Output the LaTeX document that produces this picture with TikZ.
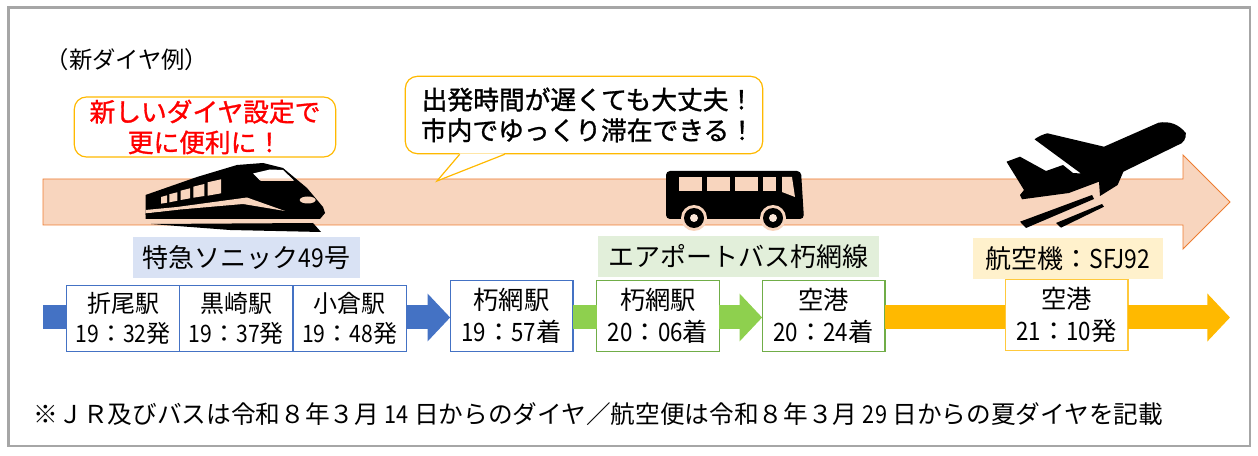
\documentclass[tikz,border=0pt]{standalone}
\usepackage{fontspec}
\setmainfont{Noto Sans CJK JP}
\newfontfamily\digitfont[FakeStretch=.88]{Noto Sans CJK JP}
\newfontfamily\heavyfont[FakeBold=1.2]{Noto Sans CJK JP}
\newcommand{\nd}[1]{{\digitfont #1}}
\usetikzlibrary{arrows.meta,calc,positioning}
\definecolor{peach}{HTML}{F8D5BE}
\definecolor{peachline}{HTML}{ED7D31}
\definecolor{railblue}{HTML}{4472C4}
\definecolor{busgreen}{HTML}{8ED04E}
\definecolor{busline}{HTML}{70AD47}
\definecolor{airgold}{HTML}{FFB900}
\definecolor{airline}{HTML}{FFC93C}
\tikzset{
  station/.style={
      draw=#1,
      line width=1pt,
      fill=white,
      inner sep=0pt,
      outer sep=0pt,
      align=center,
      minimum height=53pt,
      minimum width=92pt,
      font=\fontsize{19}{24}\selectfont
  },
  stop/.style={
      station=railblue,
      minimum width=85pt,
      minimum height=49pt,
      font=\fontsize{18}{22}\selectfont
  },
  service/.style={
      fill=#1,
      inner sep=0pt,
      minimum height=31pt,
      font=\fontsize{19.5}{22}\selectfont
  },
  balloon/.style={
      draw=airgold,
      line width=.9pt,
      fill=white,
      rounded corners=9pt,
      inner sep=0pt,
      align=center,
      font=\fontsize{19.3}{23}\heavyfont\selectfont
  },
  leg/.style={
      line width=18pt,
      draw=#1
  },
  legtip/.style={
      leg=#1,
      -{Triangle[length=17pt,width=35pt]}
  },
  cutout/.style={
      fill=peach
  }
}
\begin{document}
\begin{tikzpicture}[x=.75pt,y=-.75pt]
	\useasboundingbox (0,0) rectangle (1258,456);
	\draw[draw=black!35,line width=1.8pt] (8.5,7.5) rectangle (1250,446);
	\node[font=\fontsize{17.5}{20}\selectfont] (note) at (127,60) {（新ダイヤ例）};

	% long arrow
	\draw[draw=peachline,fill=peach,line width=.7pt] (43,179) -- (1183,179) -- (1183,155) -- (1230,202)
		-- (1183,249) -- (1183,225) -- (43,225) -- cycle;

	% rows of legs, boxes go on top
	\coordinate (railstart) at (43,317.5);
	\coordinate (airend) at (1230,317.5);
	\node[stop] (orio) at (123,318.5) {折尾駅\\\nd{19}：\nd{32}発};
	\node[stop,right=0pt of orio] (kurosaki) {黒崎駅\\\nd{19}：\nd{37}発};
	\node[stop,right=0pt of kurosaki] (kokura) {小倉駅\\\nd{19}：\nd{48}発};
	\node[station=railblue] (kutsuami) at (511.5,316) {朽網駅\\\nd{19}：\nd{57}着};
	\node[station=busline] (busstop) at (658,316) {朽網駅\\\nd{20}：\nd{06}着};
	\node[station=busline] (busair) at (823.5,316) {空港\\\nd{20}：\nd{24}着};
	\node[station=airline] (airport) at (1066.5,315) {空港\\\nd{21}：\nd{10}発};
	\draw[leg=railblue] (railstart) -- (orio.west |- railstart);
	\draw[legtip=railblue] (kokura.east |- railstart) -- (kutsuami.west |- railstart);
	\draw[leg=busgreen] (kutsuami.east |- railstart) -- (busstop.west |- railstart);
	\draw[legtip=busgreen] (busstop.east |- railstart) -- (busair.west |- railstart);
	\draw[leg=airgold] (busair.east |- railstart) -- (airport.west |- railstart);
	\draw[legtip=airgold] (airport.east |- railstart) -- (airend);

	\node[service=blue!5!railblue!20,minimum width=170pt] (sonic) at (246.5,257.5) {特急ソニック\nd{49}号};
	\node[service=busline!20,minimum width=211pt] (busline) at (738.5,256.5) {エアポートバス朽網線};
	\node[service=airgold!20,minimum width=142pt] (flight) at (1068,258.5) {航空機：\nd{SFJ92}};

	% callouts
	\node[balloon,minimum width=268pt,minimum height=58pt,text=black] (stay) at (584,115) {\hspace*{6pt}出発時間が遅くても大丈夫！\\\hspace*{6pt}市内でゆっくり滞在できる！};
	\coordinate (stayend) at (437,181);
	\fill[white] ($(stay.south west)+(55,-1)$) -- (stayend) -- ($(stay.south west)+(100,-1)$) -- cycle;
	\draw[draw=airgold,line width=.9pt] ($(stay.south west)+(55,0)$) -- (stayend) -- ($(stay.south west)+(100,0)$);
	\node[balloon,minimum width=196pt,minimum height=45pt,text=red] (newtime) at (205,127) {新しいダイヤ設定で\\更に便利に！};

	% train
	\fill (145.5,195) -- (197,177) -- (237,165) -- (263,163) -- (283,168) -- (307,188) -- (323,207) -- (325,213)
		-- (145.5,215) -- cycle;
	\fill[peach] (145.5,210) -- (177,207) -- (247,197.5) -- (285,211) -- (243,204) -- (180,209.5) -- (145.5,213.5) -- cycle;
	\fill (145.5,213.5) -- (180,210.5) -- (243,205) -- (285,212) -- (325,213) -- (320,219) -- (145.5,219) -- cycle;
	\fill (151,224) -- (313,223) -- (321,232) -- (230,230) -- cycle;
	\fill[cutout] (161,197) -- (167,195.3) -- (167,202.7) -- (161,203.7) -- cycle;
	\fill[cutout] (169.3,194.3) -- (177.3,192.3) -- (177.3,200.7) -- (169.3,202.3) -- cycle;
	\fill[cutout] (180.7,190.7) -- (190,188.3) -- (190,198.3) -- (180.7,200) -- cycle;
	\fill[cutout] (193.3,186.7) -- (204.3,184) -- (204.3,196) -- (193.3,197.7) -- cycle;
	\fill[cutout] (207.7,182.3) -- (221,179.3) -- (221,193.3) -- (207.7,195.7) -- cycle;
	\fill[white] (253,173.5) -- (270,169.5) -- (283,170) -- (294,180.5) -- (260,180.5) -- cycle;
	\fill[cutout] (259,178.5) -- (291,178.5) -- (294,181) -- (261,181) -- cycle;
	\fill[cutout] (307.7,200) ellipse (8 and 3.5);

	% bus
	\fill[rounded corners=3pt] (666,171) -- (801,171) -- (804,219) -- (666,219) -- cycle;
	\foreach \wx/\wy in {679/22.5,706.7/23.7,735/23,763/13}
		\fill[cutout] (\wx,177) rectangle ++(\wy,14.5);
	\fill[cutout] (782,177) -- (792,177) -- (795,197) -- (782,192) -- cycle;
	\foreach \wc in {694,773}{
		\fill[cutout] (\wc,218) circle (13);
		\fill (\wc,218) circle (10);
		\fill[white!40!peach] (\wc,218) circle (4);
	}

	% plane
	\fill[line join=round] (1104,146.7) -- (1047.4,133.3) to[bend right=10] (1034.5,139.3) -- (1081,173.5) -- (1073,173) -- (1063,165)
		-- (1046,171) -- (1020,156.7) -- (1006.5,161.7) -- (1024,190) -- (1020,195) -- (1022,199.3) -- (1068.9,193)
		-- (1099,181.7) -- (1100,196) -- (1117.6,185) -- (1123.4,171.7) -- (1178,145) to[bend right=40] (1185.8,133)
		to[bend right=30] (1158.5,122.7) -- cycle;
	\fill (1020,221.7) -- (1092,195) -- (1094,199) -- (1026,228) -- cycle;
	\fill (1056,223) -- (1102,204) -- (1104,206.7) -- (1061,227.7) -- cycle;

	\node[anchor=west,font=\fontsize{18.5}{21}\selectfont] (remark) at (29,414) {※ＪＲ及びバスは令和８年３月 \nd{14} 日からのダイヤ／航空便は令和８年３月 \nd{29} 日からの夏ダイヤを記載};
\end{tikzpicture}
\end{document}
